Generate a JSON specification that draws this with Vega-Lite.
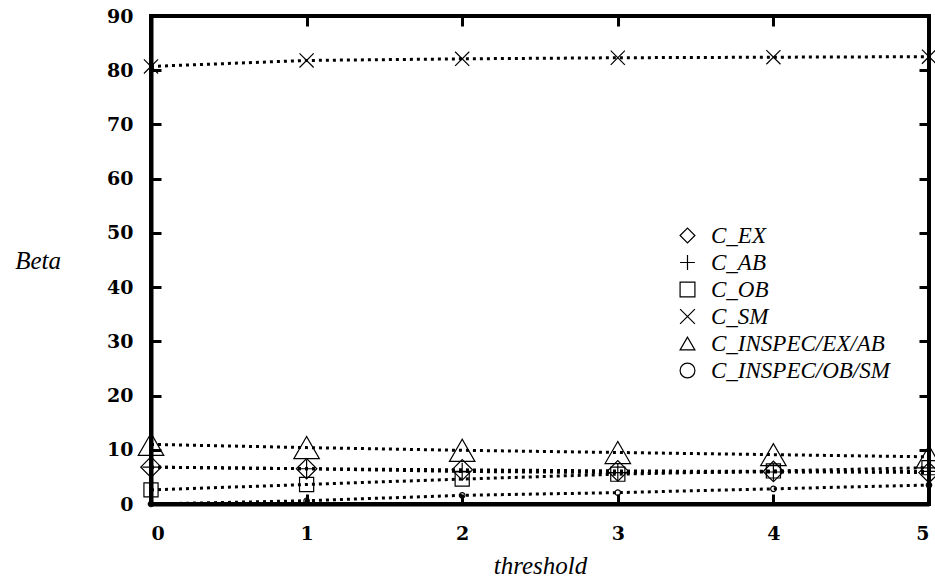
{
  "$schema": "https://vega.github.io/schema/vega-lite/v6.json",
  "width": 778,
  "height": 488,
  "autosize": {"type": "none"},
  "padding": {"left": 151, "top": 16, "right": 6, "bottom": 78},
  "background": "white",
  "view": {"stroke": "black", "strokeWidth": 4},
  "config": {
    "font": "DejaVu Serif",
    "axis": {
      "domainColor": "black",
      "domainWidth": 4,
      "tickColor": "black",
      "tickWidth": 3,
      "grid": false,
      "labelFont": "DejaVu Serif",
      "labelFontWeight": "bold",
      "labelFontSize": 19,
      "labelColor": "black",
      "titleFont": "Liberation Serif",
      "titleFontStyle": "italic",
      "titleFontWeight": "normal",
      "titleFontSize": 25,
      "titleColor": "black"
    },
    "legend": {
      "labelFont": "Liberation Serif",
      "labelFontStyle": "italic",
      "labelFontSize": 23,
      "labelColor": "black",
      "labelLimit": 0
    }
  },
  "data": {
    "values": [
      {"t": 0, "beta": 6.8, "series": "C_EX"},
      {"t": 1, "beta": 6.5, "series": "C_EX"},
      {"t": 2, "beta": 6.3, "series": "C_EX"},
      {"t": 3, "beta": 6.1, "series": "C_EX"},
      {"t": 4, "beta": 6.0, "series": "C_EX"},
      {"t": 5, "beta": 5.8, "series": "C_EX"},
      {"t": 0, "beta": 6.8, "series": "C_AB"},
      {"t": 1, "beta": 6.5, "series": "C_AB"},
      {"t": 2, "beta": 6.0, "series": "C_AB"},
      {"t": 3, "beta": 5.8, "series": "C_AB"},
      {"t": 4, "beta": 5.9, "series": "C_AB"},
      {"t": 5, "beta": 6.0, "series": "C_AB"},
      {"t": 0, "beta": 2.6, "series": "C_OB"},
      {"t": 1, "beta": 3.6, "series": "C_OB"},
      {"t": 2, "beta": 4.6, "series": "C_OB"},
      {"t": 3, "beta": 5.5, "series": "C_OB"},
      {"t": 4, "beta": 6.1, "series": "C_OB"},
      {"t": 5, "beta": 6.7, "series": "C_OB"},
      {"t": 0, "beta": 80.7, "series": "C_SM"},
      {"t": 1, "beta": 81.8, "series": "C_SM"},
      {"t": 2, "beta": 82.1, "series": "C_SM"},
      {"t": 3, "beta": 82.3, "series": "C_SM"},
      {"t": 4, "beta": 82.4, "series": "C_SM"},
      {"t": 5, "beta": 82.5, "series": "C_SM"},
      {"t": 0, "beta": 11.0, "series": "C_INSPEC/EX/AB"},
      {"t": 1, "beta": 10.4, "series": "C_INSPEC/EX/AB"},
      {"t": 2, "beta": 9.9, "series": "C_INSPEC/EX/AB"},
      {"t": 3, "beta": 9.5, "series": "C_INSPEC/EX/AB"},
      {"t": 4, "beta": 9.1, "series": "C_INSPEC/EX/AB"},
      {"t": 5, "beta": 8.7, "series": "C_INSPEC/EX/AB"},
      {"t": 0, "beta": 0.0, "series": "C_INSPEC/OB/SM"},
      {"t": 1, "beta": 0.6, "series": "C_INSPEC/OB/SM"},
      {"t": 2, "beta": 1.6, "series": "C_INSPEC/OB/SM"},
      {"t": 3, "beta": 2.1, "series": "C_INSPEC/OB/SM"},
      {"t": 4, "beta": 2.8, "series": "C_INSPEC/OB/SM"},
      {"t": 5, "beta": 3.5, "series": "C_INSPEC/OB/SM"}
    ]
  },
  "encoding": {
    "x": {"field": "t", "type": "quantitative", "scale": {"domain": [0, 5], "nice": false, "zero": false}, "axis": null},
    "y": {"field": "beta", "type": "quantitative", "scale": {"domain": [0, 90], "nice": false}, "axis": null},
    "shape": {
      "field": "series", "type": "nominal",
      "scale": {
        "domain": ["C_EX", "C_AB", "C_OB", "C_SM", "C_INSPEC/EX/AB", "C_INSPEC/OB/SM"],
        "range": ["diamond", "M-1,0L1,0M0,-1L0,1", "square", "M-1,-1L1,1M-1,1L1,-1", "triangle-up", "circle"]
      },
      "legend": {"title": null, "orient": "none", "legendX": 525, "legendY": 208, "rowPadding": 3, "symbolSize": 220, "symbolStrokeColor": "black", "symbolStrokeWidth": 1.2, "labelOffset": 12}
    }
  },
  "layer": [
    {
      "mark": {"type": "line", "color": "black", "strokeWidth": 3, "strokeDash": [3, 4], "clip": true},
      "encoding": {
        "x": {
          "field": "t", "type": "quantitative",
          "axis": {"title": "threshold", "values": [0, 1, 2, 3, 4, 5], "tickSize": -10, "labelPadding": 30, "titlePadding": 10, "format": "d"}
        },
        "y": {
          "field": "beta", "type": "quantitative",
          "axis": {"title": "Beta", "values": [0, 10, 20, 30, 40, 50, 60, 70, 80, 90], "tickSize": -10, "labelPadding": 28, "titleAngle": 0, "titleAlign": "right", "titleBaseline": "middle", "titlePadding": 46, "format": "d"}
        },
        "shape": null,
        "detail": {"field": "series"}
      }
    },
    {
      "transform": [{"filter": "datum.series === 'C_EX'"}],
      "mark": {"type": "point", "filled": false, "stroke": "black", "strokeWidth": 1.2, "opacity": 1, "size": 420},
      "encoding": {
        "x": {
          "field": "t", "type": "quantitative",
          "axis": {"orient": "top", "labels": false, "title": null, "domain": false, "values": [0, 1, 2, 3, 4, 5], "tickSize": -10}
        },
        "y": {
          "field": "beta", "type": "quantitative",
          "axis": {"orient": "right", "labels": false, "title": null, "domain": false, "values": [0, 10, 20, 30, 40, 50, 60, 70, 80, 90], "tickSize": -10}
        }
      }
    },
    {
      "transform": [{"filter": "datum.series === 'C_AB'"}],
      "mark": {"type": "point", "filled": false, "stroke": "black", "strokeWidth": 1.2, "opacity": 1, "size": 300}
    },
    {
      "transform": [{"filter": "datum.series === 'C_OB'"}],
      "mark": {"type": "point", "filled": false, "stroke": "black", "strokeWidth": 1.2, "opacity": 1, "size": 200}
    },
    {
      "transform": [{"filter": "datum.series === 'C_SM'"}],
      "mark": {"type": "point", "filled": false, "stroke": "black", "strokeWidth": 1.2, "opacity": 1, "size": 200}
    },
    {
      "transform": [{"filter": "datum.series === 'C_INSPEC/EX/AB'"}],
      "mark": {"type": "point", "filled": false, "stroke": "black", "strokeWidth": 1.2, "opacity": 1, "size": 650}
    },
    {
      "transform": [{"filter": "datum.series === 'C_INSPEC/OB/SM'"}],
      "mark": {"type": "point", "filled": false, "stroke": "black", "strokeWidth": 1.2, "opacity": 1, "size": 30}
    }
  ],
  "resolve": {"axis": {"x": "independent", "y": "independent"}}
}
